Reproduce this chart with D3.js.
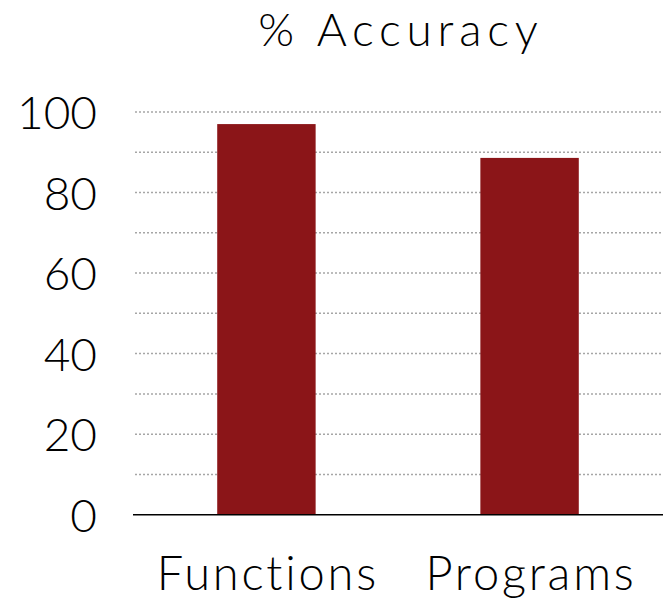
<!DOCTYPE html>
<html>
<head>
<meta charset="utf-8">
<script src="https://cdn.jsdelivr.net/npm/d3@7"></script>
<style>
  html, body { margin: 0; padding: 0; background: #fff; }
  svg { display: block; }
  svg text { font-family: "Century Gothic", "Lato", "DejaVu Sans", sans-serif; font-weight: 300; fill: #000; }
</style>
</head>
<body>
<svg id="chart" width="663" height="599"></svg>
<script>
// Accuracy per task type
const categories = ["Functions", "Programs"];
const accuracy = [97.0, 88.6];
const tickValues = [0, 20, 40, 60, 80, 100];
const gridValues = [10, 20, 30, 40, 50, 60, 70, 80, 90, 100];
const title = "% Accuracy";

const svg = d3.select("#chart");
const margin = { left: 133, right: 0, top: 112, bottom: 84 };
const W = 663, H = 599;
const fontSize = 47;

const x = d3.scaleBand()
  .domain(categories)
  .range([margin.left, W - margin.right])
  .paddingInner(0.626)
  .paddingOuter(0.32);

const y = d3.scaleLinear()
  .domain([0, 100])
  .range([H - margin.bottom - 0.3, margin.top]);

// dotted horizontal gridlines
svg.append("g")
  .selectAll("line")
  .data(gridValues)
  .join("line")
  .attr("x1", margin.left + 2)
  .attr("x2", W)
  .attr("y1", d => y(d))
  .attr("y2", d => y(d))
  .attr("stroke", "#a6a6a6")
  .attr("stroke-width", 1.5)
  .attr("stroke-dasharray", "2,2");

// bars
svg.append("g")
  .selectAll("rect")
  .data(categories.map((c, i) => ({ c, v: accuracy[i] })))
  .join("rect")
  .attr("x", d => x(d.c))
  .attr("width", x.bandwidth())
  .attr("y", d => y(d.v))
  .attr("height", d => y(0) - y(d.v))
  .attr("fill", "#8b1518");

// y axis labels
const yAxis = d3.axisLeft(y).tickValues(tickValues).tickSize(0).tickPadding(0);
const gy = svg.append("g")
  .attr("transform", `translate(${97},0)`)
  .call(yAxis)
  .attr("font-family", null)
  .attr("font-size", null);
gy.select(".domain").remove();
gy.selectAll("text")
  .attr("font-size", 46)
  .attr("dy", "0.36em")
  .attr("fill", "#000");

// baseline
svg.append("line")
  .attr("x1", margin.left)
  .attr("x2", W)
  .attr("y1", y(0))
  .attr("y2", y(0))
  .attr("stroke", "#000")
  .attr("stroke-width", 1.5);

// category labels
const catSpacing = 2.8;
const xAxis = d3.axisBottom(x).tickSize(0).tickPadding(0);
const gx = svg.append("g")
  .attr("transform", `translate(0,${590})`)
  .call(xAxis)
  .attr("font-family", null)
  .attr("font-size", null);
gx.select(".domain").remove();
gx.selectAll("text")
  .attr("font-size", fontSize)
  .attr("dy", 0)
  .attr("x", catSpacing / 2)
  .attr("letter-spacing", catSpacing)
  .attr("fill", "#000");

// title
const titleSpacing = 5.8;
svg.append("text")
  .attr("x", 398 + titleSpacing / 2)
  .attr("y", 46)
  .attr("text-anchor", "middle")
  .attr("font-size", 46)
  .attr("letter-spacing", titleSpacing)
  .text(title);
</script>
</body>
</html>
